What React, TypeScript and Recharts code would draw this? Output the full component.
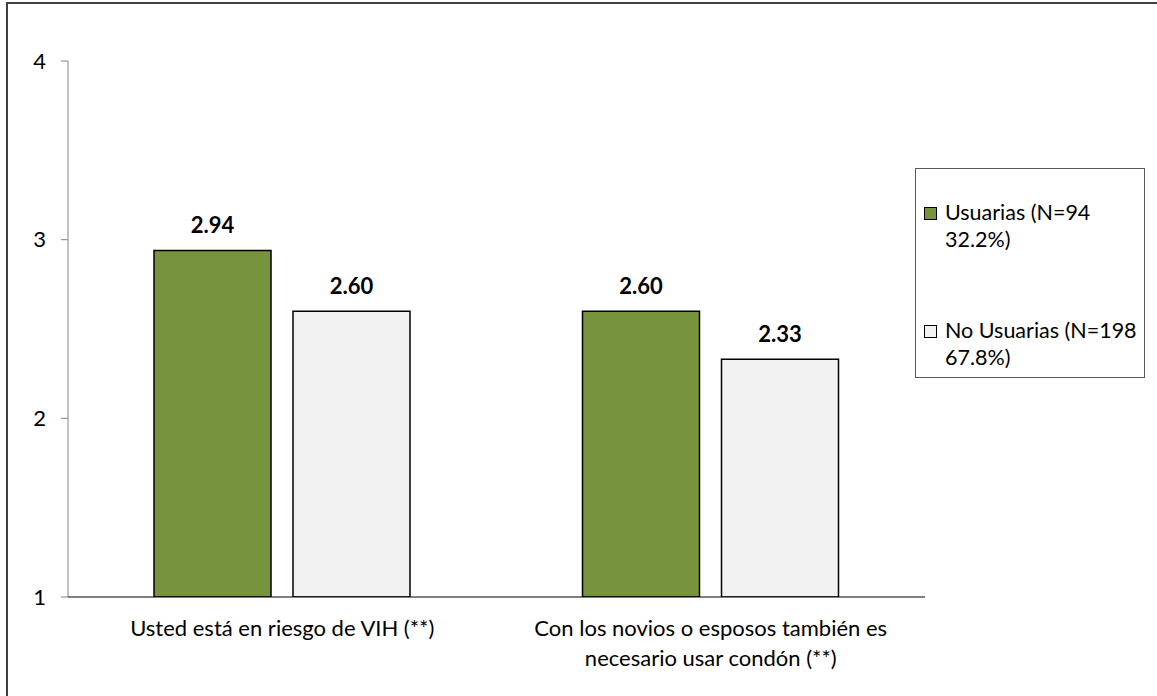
import React from 'react';
import { BarChart, Bar, XAxis, YAxis, LabelList, Legend } from 'recharts';

const categories = [
  'Usted está en riesgo de VIH (**)',
  'Con los novios o esposos también es\nnecesario usar condón (**)',
];
const usuarias = [2.94, 2.6];
const noUsuarias = [2.6, 2.33];
const seriesNames = ['Usuarias (N=94\n32.2%)', 'No Usuarias (N=198\n67.8%)'];
const yTicks = [1, 2, 3, 4];
const boundaryTicks = [0, 1, 2];

const data = categories.map((c, i) => ({
  category: c,
  usuarias: usuarias[i],
  noUsuarias: noUsuarias[i],
}));

const FONT = 'Lato, "Liberation Sans", sans-serif';
const GREEN = '#77933C';
const GREY = '#F2F2F2';

const CategoryTick = (props: any) => {
  const { x, y, payload } = props;
  const lines = String(payload.value).split('\n');
  return (
    <text
      x={x}
      y={y}
      textAnchor="middle"
      fill="#000"
      style={{ fontFamily: FONT, fontSize: 22 }}
    >
      {lines.map((l, i) => (
        <tspan key={i} x={x} dy={i === 0 ? 39 : 30}>
          {l}
        </tspan>
      ))}
    </text>
  );
};

const renderLegend = (props: any) => {
  const payload = [...(props.payload || [])].sort(
    (a: any, b: any) => seriesNames.indexOf(a.value) - seriesNames.indexOf(b.value)
  );
  return (
    <div
      style={{
        width: 230,
        height: 210,
        boxSizing: 'border-box',
        border: '1px solid #595959',
        padding: '30px 0 0 8px',
        fontFamily: FONT,
        fontSize: 21.5,
        lineHeight: '27px',
        color: '#000',
        background: '#fff',
      }}
    >
      {payload.map((p: any, i: number) => (
        <div
          key={i}
          style={{ display: 'flex', alignItems: 'flex-start', marginBottom: i === 0 ? 64 : 0 }}
        >
          <span
            style={{
              display: 'inline-block',
              width: 13,
              height: 13,
              boxSizing: 'border-box',
              background: p.color,
              border: '1.5px solid #000',
              marginTop: 8,
              marginRight: 8,
              flex: 'none',
            }}
          />
          <span style={{ whiteSpace: 'pre-line' }}>{p.value}</span>
        </div>
      ))}
    </div>
  );
};

export default function App() {
  return (
    <div
      style={{
        position: 'absolute',
        left: 0,
        top: 0,
        width: 1157,
        height: 696,
        overflow: 'hidden',
        background: '#fff',
      }}
    >
      <div
        style={{
          position: 'absolute',
          left: 6,
          top: 2,
          width: 1300,
          height: 800,
          border: '2px solid #404040',
        }}
      />
      <div style={{ position: 'absolute', left: 0, top: 0 }}>
        <BarChart
          width={1157}
          height={696}
          data={data}
          margin={{ top: 61, right: 232, bottom: 97, left: 67 }}
          barCategoryGap={86}
          barGap={22}
        >
          <YAxis
            width={1}
            domain={[1, 4]}
            ticks={yTicks}
            interval={0}
            allowDataOverflow
            tickSize={7}
            tickMargin={15}
            stroke="#868686"
            tick={{ fill: '#000', fontFamily: FONT, fontSize: 22 }}
          />
          <XAxis
            xAxisId={0}
            dataKey="category"
            height={1}
            tickSize={0}
            tickMargin={0}
            tickLine={false}
            axisLine={{ stroke: '#000', strokeWidth: 1.2 }}
            interval={0}
            tick={<CategoryTick />}
          />
          <XAxis
            xAxisId="b"
            type="number"
            domain={[0, 2]}
            ticks={boundaryTicks}
            interval={0}
            height={1}
            tick={false}
            tickSize={7}
            axisLine={false}
            tickLine={{ stroke: '#000' }}
          />
          <Legend
            layout="vertical"
            align="center"
            verticalAlign="middle"
            itemSorter={null as any}
            wrapperStyle={{ left: 915, top: 168, width: 230, height: 210 }}
            content={renderLegend}
          />
          <Bar
            dataKey="usuarias"
            name={seriesNames[0]}
            fill={GREEN}
            stroke="#000"
            strokeWidth={1.5}
            isAnimationActive={false}
          >
            <LabelList
              dataKey="usuarias"
              position="top"
              offset={17}
              formatter={(v: any) => Number(v).toFixed(2)}
              style={{ fontFamily: FONT, fontSize: 22, fontWeight: 700, fill: '#000' }}
            />
          </Bar>
          <Bar
            dataKey="noUsuarias"
            name={seriesNames[1]}
            fill={GREY}
            stroke="#000"
            strokeWidth={1.5}
            isAnimationActive={false}
          >
            <LabelList
              dataKey="noUsuarias"
              position="top"
              offset={17}
              formatter={(v: any) => Number(v).toFixed(2)}
              style={{ fontFamily: FONT, fontSize: 22, fontWeight: 700, fill: '#000' }}
            />
          </Bar>
        </BarChart>
      </div>
    </div>
  );
}
